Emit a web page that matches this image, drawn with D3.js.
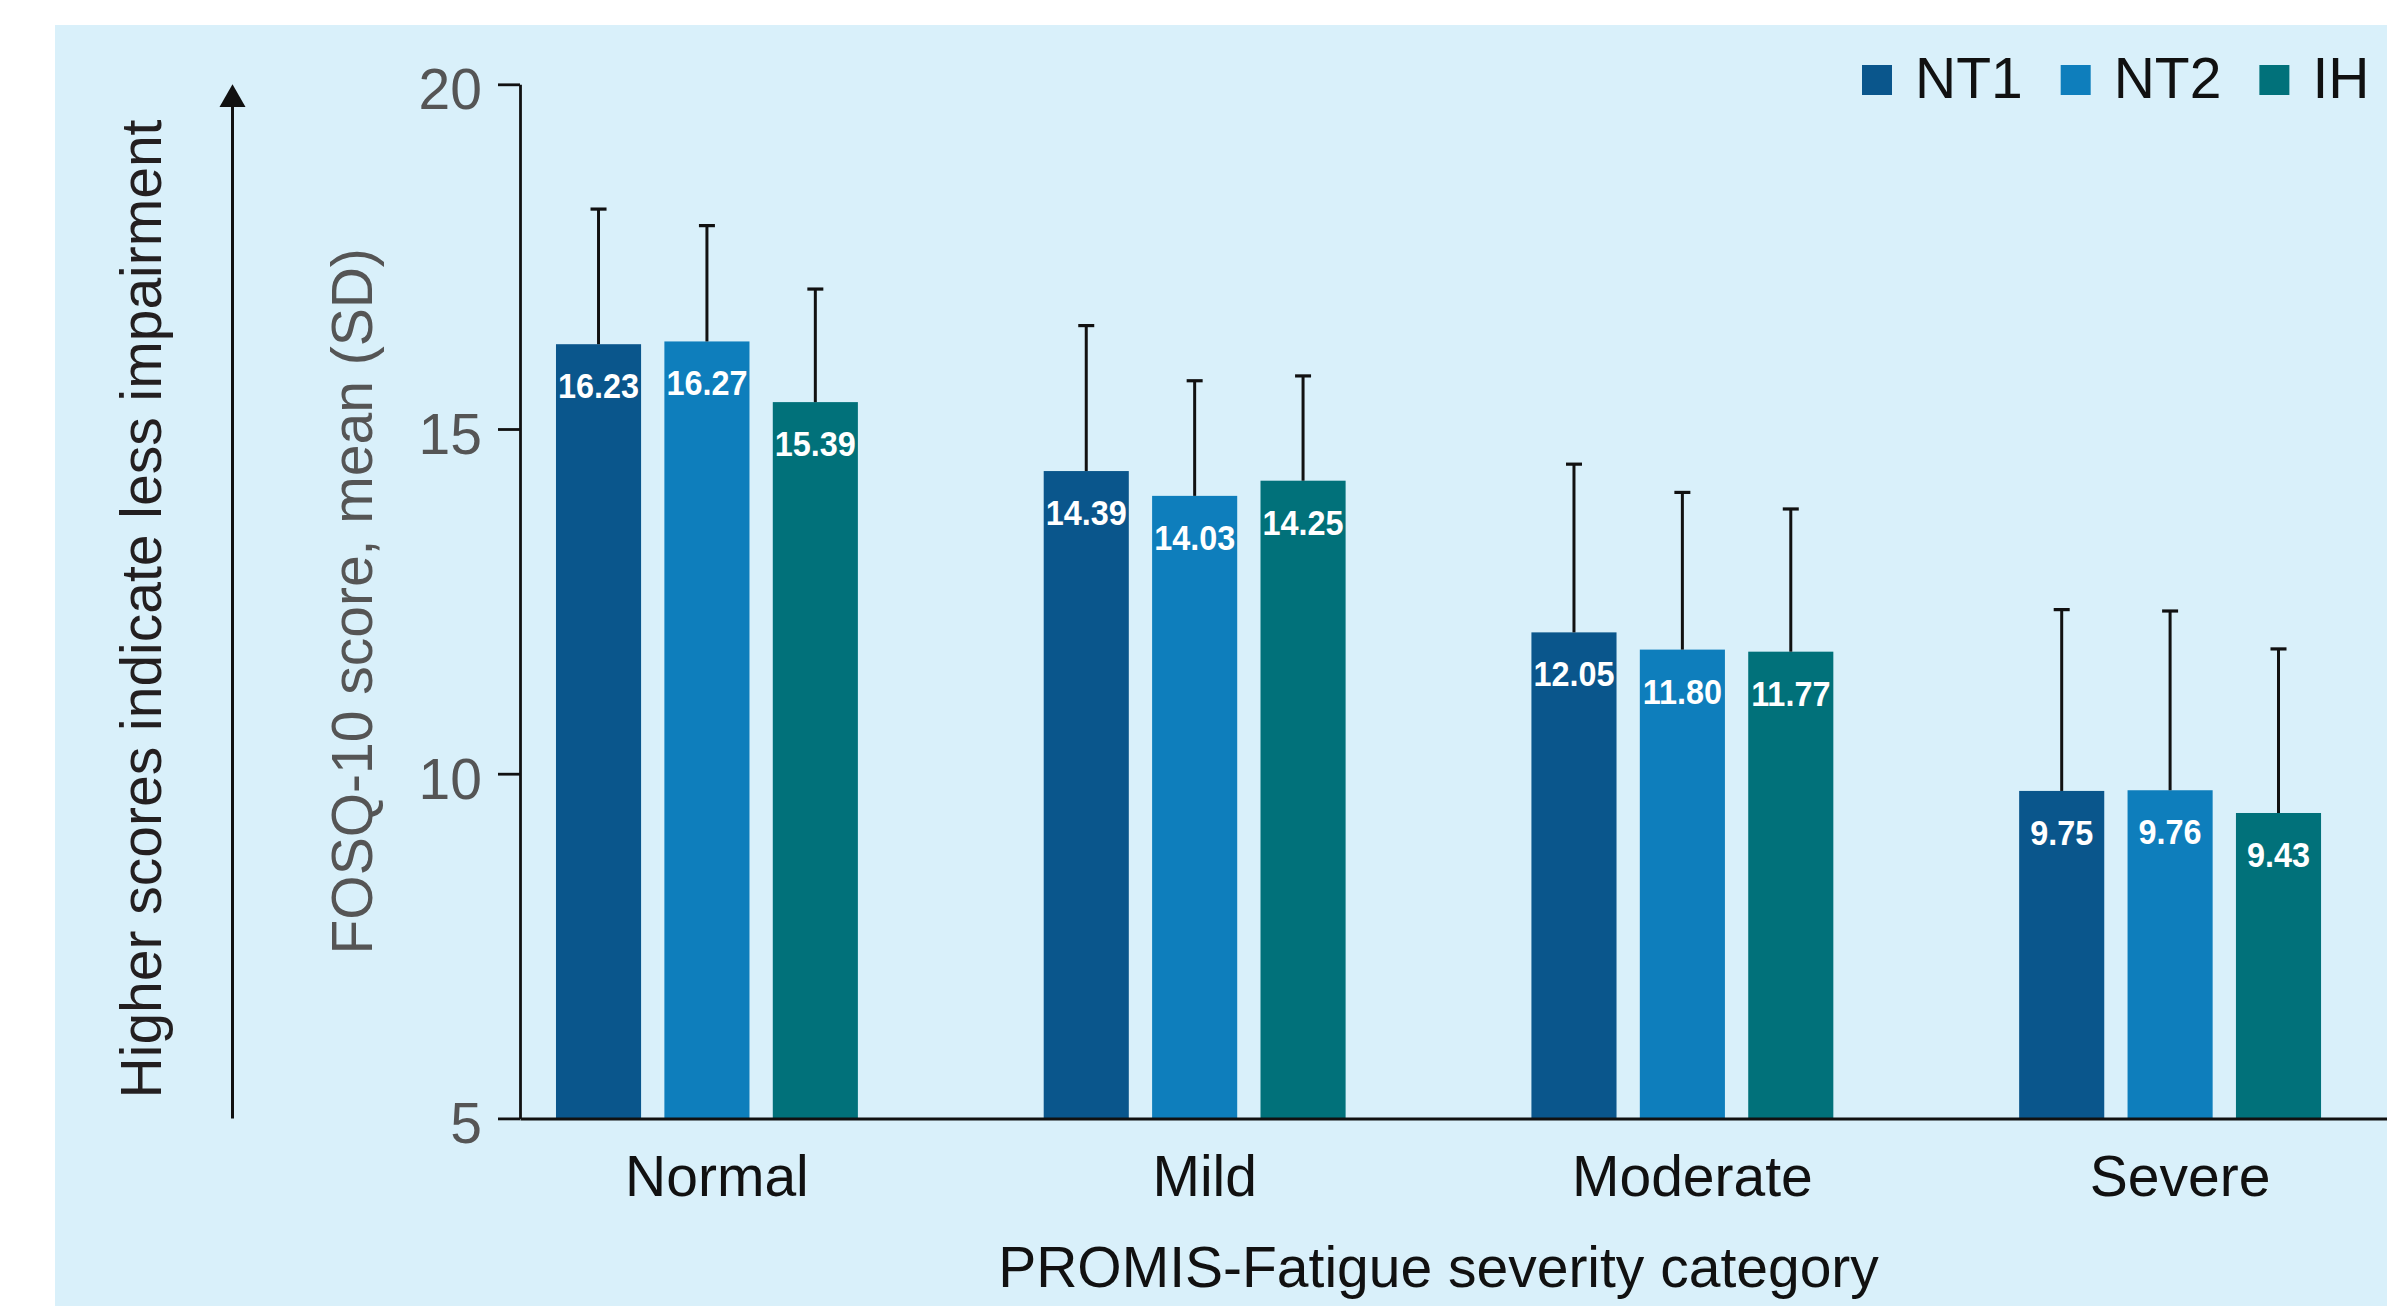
<!DOCTYPE html>
<html>
<head>
<meta charset="utf-8">
<script src="https://cdn.jsdelivr.net/npm/d3@7"></script>
<style>
  html, body { margin: 0; padding: 0; background: #ffffff; }
  svg { display: block; }
  text { font-family: "Liberation Sans", Arial, Helvetica, sans-serif; }
</style>
</head>
<body>
<svg id="chart" width="2387" height="1306"></svg>
<script>
// FOSQ-10 mean scores by PROMIS-Fatigue severity category and diagnosis
const categories = ["Normal", "Mild", "Moderate", "Severe"];
const seriesNames = ["NT1", "NT2", "IH"];
const meanNT1 = [16.23, 14.39, 12.05, 9.75];
const meanNT2 = [16.27, 14.03, 11.80, 9.76];
const meanIH  = [15.39, 14.25, 11.77, 9.43];
const sdNT1 = [1.96, 2.11, 2.44, 2.63];
const sdNT2 = [1.68, 1.67, 2.28, 2.60];
const sdIH  = [1.64, 1.52, 2.07, 2.38];
const yTicks = [5, 10, 15, 20];
const yTitle = "FOSQ-10 score, mean (SD)";
const xTitle = "PROMIS-Fatigue severity category";
const sideNote = "Higher scores indicate less impairment";

const seriesColors = ["#0a568c", "#0e7ebc", "#01717a"];
const means = [meanNT1, meanNT2, meanIH];
const sds = [sdNT1, sdNT2, sdIH];

const rows = [];
categories.forEach((c, ci) => {
  seriesNames.forEach((s, si) => {
    rows.push({ category: c, series: s, mean: means[si][ci], sd: sds[si][ci] });
  });
});

const W = 2387, H = 1306;
const svg = d3.select("#chart");

// panel background
svg.append("rect")
  .attr("x", 55).attr("y", 25)
  .attr("width", W - 55).attr("height", H - 25)
  .attr("fill", "#d9f0fa");

const axisX = 520, yTop = 84.3, yBottom = 1118.4;

const y = d3.scaleLinear().domain([5, 20]).range([yBottom, yTop]);

const x0 = d3.scaleBand()
  .domain(categories)
  .range([axisX, W])
  .paddingInner(0.381)
  .paddingOuter(0.1045)
  .align(0.353);

const x1 = d3.scaleBand()
  .domain(seriesNames)
  .range([0, x0.bandwidth()])
  .paddingInner(0.215)
  .paddingOuter(0);

const color = d3.scaleOrdinal().domain(seriesNames).range(seriesColors);

// bars
const groups = svg.append("g").selectAll("g.grp")
  .data(categories)
  .join("g")
  .attr("class", "grp")
  .attr("transform", d => `translate(${x0(d)},0)`);

groups.selectAll("rect")
  .data(c => rows.filter(r => r.category === c))
  .join("rect")
  .attr("x", d => x1(d.series))
  .attr("y", d => y(d.mean))
  .attr("width", x1.bandwidth())
  .attr("height", d => y(5) - y(d.mean))
  .attr("fill", d => color(d.series));

// upper SD whiskers
const capHalf = 8;
groups.selectAll("g.err")
  .data(c => rows.filter(r => r.category === c))
  .join("g")
  .attr("class", "err")
  .each(function(d) {
    const g = d3.select(this);
    const cx = x1(d.series) + x1.bandwidth() / 2;
    g.append("line")
      .attr("x1", cx).attr("x2", cx)
      .attr("y1", y(d.mean)).attr("y2", y(d.mean + d.sd))
      .attr("stroke", "#111").attr("stroke-width", 3);
    g.append("line")
      .attr("x1", cx - capHalf).attr("x2", cx + capHalf)
      .attr("y1", y(d.mean + d.sd)).attr("y2", y(d.mean + d.sd))
      .attr("stroke", "#111").attr("stroke-width", 3.2);
  });

// value labels inside bars (slightly condensed bold)
groups.selectAll("text.val")
  .data(c => rows.filter(r => r.category === c))
  .join("text")
  .attr("class", "val")
  .attr("transform", d => `translate(${x1(d.series) + x1.bandwidth() / 2},${y(d.mean) + 54}) scale(0.9,1)`)
  .attr("text-anchor", "middle")
  .attr("fill", "#ffffff")
  .attr("font-weight", "bold")
  .attr("font-size", 36)
  .text(d => d.mean.toFixed(2));

// y axis
const yAxis = svg.append("g")
  .attr("transform", `translate(${axisX},0)`)
  .call(d3.axisLeft(y).tickValues(yTicks).tickSize(22).tickSizeOuter(0).tickPadding(16).tickFormat(d3.format("d")));
yAxis.select(".domain").attr("stroke", "#111").attr("stroke-width", 2.8);
yAxis.selectAll(".tick line").attr("stroke", "#111").attr("stroke-width", 2.8);
yAxis.selectAll(".tick text")
  .attr("font-size", 57)
  .attr("fill", "#555555")
  .attr("dy", "0.43em");

// x axis
const xAxis = svg.append("g")
  .attr("transform", `translate(0,${yBottom})`)
  .call(d3.axisBottom(x0).tickSize(0).tickSizeOuter(0));
xAxis.select(".domain").attr("stroke", "#111").attr("stroke-width", 3);
xAxis.selectAll(".tick text")
  .attr("font-size", 57)
  .attr("fill", "#111111")
  .attr("y", 78)
  .attr("dy", 0)
  .attr("dx", 10);

// axis titles
const bandsMid = (x0(categories[0]) + x0(categories[categories.length - 1]) + x0.bandwidth()) / 2;
svg.append("text")
  .attr("x", bandsMid).attr("y", 1287)
  .attr("text-anchor", "middle")
  .attr("font-size", 57)
  .attr("fill", "#111111")
  .text(xTitle);

svg.append("text")
  .attr("transform", `translate(372,${(yTop + yBottom) / 2}) rotate(-90)`)
  .attr("text-anchor", "middle")
  .attr("font-size", 57)
  .attr("fill", "#555555")
  .text(yTitle);

svg.append("text")
  .attr("transform", `translate(161,609) rotate(-90)`)
  .attr("text-anchor", "middle")
  .attr("font-size", 57)
  .attr("fill", "#231f20")
  .text(sideNote);

// direction arrow
const arrowX = 232.5;
svg.append("line")
  .attr("x1", arrowX).attr("x2", arrowX)
  .attr("y1", yBottom).attr("y2", 105)
  .attr("stroke", "#111").attr("stroke-width", 3);
svg.append("path")
  .attr("d", `M${arrowX},${yTop} L${arrowX - 13},107 L${arrowX + 13},107 Z`)
  .attr("fill", "#111");

// legend
const legend = svg.append("g").attr("transform", "translate(1862,65)");
let lx = 0;
seriesNames.forEach((s) => {
  const item = legend.append("g").attr("transform", `translate(${lx},0)`);
  item.append("rect")
    .attr("width", 30).attr("height", 30)
    .attr("fill", color(s));
  const t = item.append("text")
    .attr("x", 53).attr("y", 33)
    .attr("font-size", 57)
    .attr("fill", "#111111")
    .text(s);
  lx += 53 + t.node().getComputedTextLength() + 38;
});
</script>
</body>
</html>
